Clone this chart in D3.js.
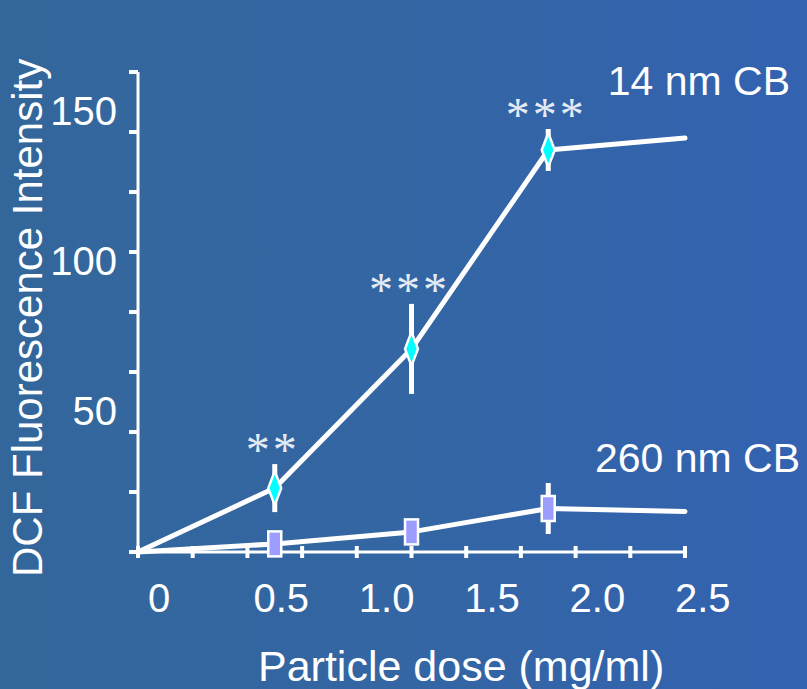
<!DOCTYPE html>
<html>
<head>
<meta charset="utf-8">
<script src="https://cdn.jsdelivr.net/npm/d3@7"></script>
<style>
  html, body { margin: 0; padding: 0; overflow: hidden; }
  svg { display: block; }
</style>
</head>
<body>
<script>
// Particle dose (mg/ml) for each measurement
const doses = [0, 0.625, 1.25, 1.875, 2.5];
// DCF fluorescence, 14 nm carbon black
const cb14 = [0, 21.3, 67.7, 134, 138];
const cb14Err = [0, 8, 15, 7, 0];
// DCF fluorescence, 260 nm carbon black
const cb260 = [0, 2.7, 6.7, 14.5, 13.5];
const cb260Err = [0, 0, 3, 8.5, 0];
// Which points carry a marker
const marked = [false, true, true, true, false];
// Significance stars for the 14 nm series
const stars14 = ["", "**", "***", "***", ""];
// Axis tick labels
const xLabels = [0, 0.5, 1.0, 1.5, 2.0, 2.5];
const yLabels = [50, 100, 150];

const W = 807, H = 689;
const svg = d3.select("body").append("svg").attr("width", W).attr("height", H);

const defs = svg.append("defs");
const grad = defs.append("linearGradient").attr("id", "bg").attr("x1", "0").attr("x2", "1").attr("y1", "0").attr("y2", "0");
grad.append("stop").attr("offset", "0%").attr("stop-color", "#33679b");
grad.append("stop").attr("offset", "50%").attr("stop-color", "#3366a3");
grad.append("stop").attr("offset", "100%").attr("stop-color", "#3362b1");
svg.append("rect").attr("width", W).attr("height", H).attr("fill", "url(#bg)");

const x = d3.scaleLinear().domain([0, 2.5]).range([138, 685]);
const y = d3.scaleLinear().domain([0, 160]).range([552, 72]);
// tick label row runs on its own evenly spaced scale
const xLab = d3.scaleLinear().domain([0, 2.5]).range([148, 675]);

const font = "'Liberation Sans', Arial, sans-serif";

// y axis with outward ticks every 20 units
const yAxis = svg.append("g");
yAxis.append("line").attr("x1", x(0)).attr("x2", x(0)).attr("y1", y(160)).attr("y2", y(0))
  .attr("stroke", "#fff").attr("stroke-width", 3);
yAxis.selectAll("line.t").data(d3.range(0, 161, 20)).join("line").attr("class", "t")
  .attr("x1", x(0) - 9).attr("x2", x(0)).attr("y1", d => y(d)).attr("y2", d => y(d))
  .attr("stroke", "#fff").attr("stroke-width", 4);
yAxis.selectAll("text").data(yLabels).join("text")
  .attr("x", 117).attr("y", d => y(d) + 23)
  .attr("text-anchor", "end").attr("fill", "#fff")
  .style("font-family", font).style("font-size", "40px")
  .text(d => d);

// x axis with crossing ticks
const xAxis = svg.append("g");
xAxis.append("line").attr("x1", x(0)).attr("x2", x(2.5)).attr("y1", y(0)).attr("y2", y(0))
  .attr("stroke", "#fff").attr("stroke-width", 3);
xAxis.selectAll("line.t").data(d3.range(0, 11)).join("line").attr("class", "t")
  .attr("x1", d => x(d * 0.25)).attr("x2", d => x(d * 0.25))
  .attr("y1", y(0) - 6).attr("y2", y(0) + 6)
  .attr("stroke", "#fff").attr("stroke-width", 4);
xAxis.selectAll("text").data(xLabels).join("text")
  .attr("x", d => xLab(d)).attr("y", 612)
  .attr("text-anchor", "start").attr("fill", "#fff")
  .style("font-family", font).style("font-size", "40px")
  .text(d => d === 0 ? "0" : d.toFixed(1));

// axis titles
svg.append("text").attr("x", 258).attr("y", 681).attr("fill", "#fff")
  .style("font-family", font).style("font-size", "43px")
  .text("Particle dose (mg/ml)");
svg.append("text").attr("transform", "translate(42,577) rotate(-90)").attr("fill", "#fff")
  .style("font-family", font).style("font-size", "42px")
  .text("DCF Fluorescence Intensity");

const line = d3.line().x(d => x(d[0])).y(d => y(d[1]));

function drawSeries(vals, errs, marker) {
  const pts = doses.map((d, i) => [d, vals[i], errs[i], marked[i]]);
  const g = svg.append("g");
  g.append("path").datum(pts).attr("d", line)
    .attr("fill", "none").attr("stroke", "#fff").attr("stroke-width", 5)
    .attr("stroke-linecap", "round").attr("stroke-linejoin", "round");
  const withErr = pts.filter(p => p[3] && p[2] > 0);
  g.selectAll("rect.err").data(withErr).join("rect").attr("class", "err")
    .attr("x", p => x(p[0]) - 2.5).attr("width", 5)
    .attr("y", p => y(p[1] + p[2])).attr("height", p => y(p[1] - p[2]) - y(p[1] + p[2]))
    .attr("fill", "#fff");
  const m = g.selectAll("g.m").data(pts.filter(p => p[3])).join("g").attr("class", "m")
    .attr("transform", p => `translate(${x(p[0])},${y(p[1])})`);
  if (marker === "diamond") {
    m.append("path").attr("d", "M0,-17 L6.5,0 L0,17 L-6.5,0 Z")
      .attr("fill", "#00ffff").attr("stroke", "#fff").attr("stroke-width", 2.5)
      .attr("stroke-linejoin", "round");
  } else {
    m.append("rect").attr("x", -6.5).attr("y", -12.5).attr("width", 13).attr("height", 25)
      .attr("fill", "#9d9dff").attr("stroke", "#fff").attr("stroke-width", 2.5);
  }
  return pts;
}

const p14 = drawSeries(cb14, cb14Err, "diamond");
drawSeries(cb260, cb260Err, "square");

// significance stars
svg.append("g").selectAll("text").data(p14.map((p, i) => [p, stars14[i]]).filter(d => d[1]))
  .join("text")
  .attr("x", d => x(d[0][0]) - 2).attr("y", d => y(d[0][1] + d[0][2]) + 2)
  .attr("text-anchor", "middle").attr("fill", "#e4ebf4")
  .attr("letter-spacing", "3px")
  .style("font-family", "'Liberation Serif', 'Times New Roman', serif").style("font-size", "48px")
  .text(d => d[1]);

// series labels near the line ends
svg.append("text").attr("x", 790).attr("y", y(cb14[4]) - 43).attr("text-anchor", "end")
  .attr("fill", "#fff").style("font-family", font).style("font-size", "41px").text("14 nm CB");
svg.append("text").attr("x", 800).attr("y", y(cb260[4]) - 40).attr("text-anchor", "end")
  .attr("fill", "#fff").style("font-family", font).style("font-size", "41px").text("260 nm CB");
</script>
</body>
</html>
